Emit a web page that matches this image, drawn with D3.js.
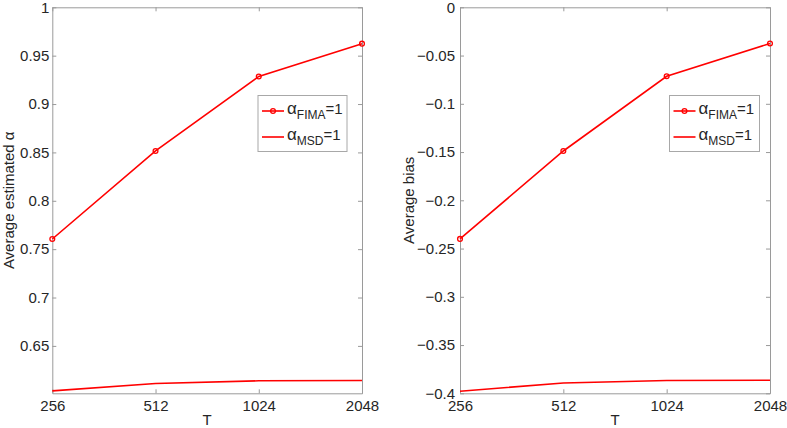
<!DOCTYPE html>
<html>
<head>
<meta charset="utf-8">
<script src="https://cdn.jsdelivr.net/npm/d3@7"></script>
<style>
  body { margin: 0; background: #fff; }
  text { font-family: "Liberation Sans", Arial, sans-serif; fill: #262626; }
</style>
</head>
<body>
<section id="grafico"></section>
<script>
// data
const T = [256, 512, 1024, 2048];
const tLabels = ["256", "512", "1024", "2048"];

const fimaEst = [0.7605, 0.8515, 0.9285, 0.9624];
const msdEst  = [0.6035, 0.6112, 0.6139, 0.6143];
const fimaBias = [-0.2400, -0.1489, -0.0715, -0.0375];
const msdBias  = [-0.3978, -0.3894, -0.3868, -0.3865];

const estTicks  = [0.65, 0.7, 0.75, 0.8, 0.85, 0.9, 0.95, 1];
const biasTicks = [-0.4, -0.35, -0.3, -0.25, -0.2, -0.15, -0.1, -0.05, 0];

const width = 787;
const height = 428;
const yTop = 7.3, yBottom = 393.3;

const svg = d3.select("section#grafico")
    .append("svg")
    .attr("width", width)
    .attr("height", height);

const panels = [
  { x0: 52.3, x1: 362, yDomain: [0.601, 1], ticks: estTicks, fima: fimaEst, msd: msdEst,
    ylabel: "Average estimated α", ylabelX: 13.5, pad: 3, legX: 258, legW: 89 },
  { x0: 460, x1: 770, yDomain: [-0.4, 0], ticks: biasTicks, fima: fimaBias, msd: msdBias,
    ylabel: "Average bias", ylabelX: 414, pad: 5, legX: 669.5, legW: 90 }
];

const axisColor = "#9a9a9a";

panels.forEach(p => {
  const x = d3.scaleLog().base(2).domain([256, 2048]).range([p.x0, p.x1]);
  const y = d3.scaleLinear().domain(p.yDomain).range([yBottom, yTop]);
  const g = svg.append("g");

  const fmt = d3.format("~g");

  // axes with inward ticks on all 4 sides
  const ax = [
    [d3.axisBottom(x).tickValues(T).tickFormat((d, i) => tLabels[i]).tickPadding(7), `translate(0,${yBottom})`],
    [d3.axisTop(x).tickValues(T).tickFormat(""), `translate(0,${yTop})`],
    [d3.axisLeft(y).tickValues(p.ticks).tickFormat(fmt).tickPadding(p.pad), `translate(${p.x0},0)`],
    [d3.axisRight(y).tickValues(p.ticks).tickFormat(""), `translate(${p.x1},0)`]
  ];
  ax.forEach(([a, tr]) => {
    const ag = g.append("g")
      .attr("transform", tr)
      .call(a.tickSizeInner(-4).tickSizeOuter(0));
    ag.select(".domain").attr("stroke", axisColor);
    ag.selectAll(".tick line").attr("stroke", axisColor);
    ag.selectAll(".tick text")
      .attr("fill", "#262626")
      .style("font-size", "15px")
      .style("font-family", "'Liberation Sans', Arial, sans-serif");
  });

  const line = d3.line().x((d, i) => x(T[i])).y(d => y(d));

  g.append("path")
    .attr("d", line(p.msd))
    .attr("fill", "none")
    .attr("stroke", "#ff0000")
    .attr("stroke-width", 1.6);

  g.append("path")
    .attr("d", line(p.fima))
    .attr("fill", "none")
    .attr("stroke", "#ff0000")
    .attr("stroke-width", 1.6);

  g.selectAll("circle.pt")
    .data(p.fima)
    .enter()
    .append("circle")
    .attr("class", "pt")
    .attr("cx", (d, i) => x(T[i]))
    .attr("cy", d => y(d))
    .attr("r", 2.4)
    .attr("fill", "none")
    .attr("stroke", "#ff0000")
    .attr("stroke-width", 1.3);

  // labels
  g.append("text")
    .attr("transform", `translate(${p.ylabelX},${(yTop + yBottom) / 2}) rotate(-90)`)
    .attr("text-anchor", "middle")
    .style("font-size", "15px")
    .text(p.ylabel);

  g.append("text")
    .attr("x", (p.x0 + p.x1) / 2)
    .attr("y", 425)
    .attr("text-anchor", "middle")
    .style("font-size", "15px")
    .text("T");

  // legend
  const lg = g.append("g").attr("transform", `translate(${p.legX},95.5)`);
  lg.append("rect")
    .attr("width", p.legW)
    .attr("height", 56)
    .attr("fill", "#fff")
    .attr("stroke", "#a8a8a8");

  const items = [["FIMA", true], ["MSD", false]];
  items.forEach(([sub, mark], i) => {
    const cy = 15.5 + i * 26;
    lg.append("line")
      .attr("x1", 4).attr("x2", 26)
      .attr("y1", cy).attr("y2", cy)
      .attr("stroke", "#ff0000")
      .attr("stroke-width", 1.6);
    if (mark) {
      lg.append("circle")
        .attr("cx", 15).attr("cy", cy).attr("r", 2.4)
        .attr("fill", "none").attr("stroke", "#ff0000").attr("stroke-width", 1.3);
    }
    const t = lg.append("text")
      .attr("x", 29)
      .attr("y", cy + 3)
      .style("font-size", "15px");
    t.append("tspan").style("font-size", "17px").text("α");
    t.append("tspan").attr("dy", 5).style("font-size", "12px").text(sub);
    t.append("tspan").attr("dy", -5).text("=1");
  });
});
</script>
</body>
</html>
